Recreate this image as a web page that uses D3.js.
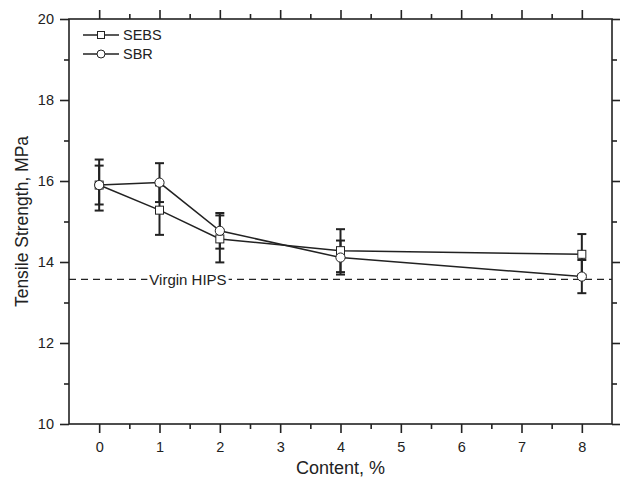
<!DOCTYPE html>
<html>
<head>
<meta charset="utf-8">
<script src="https://cdn.jsdelivr.net/npm/d3@7"></script>
<style>
  html, body { margin: 0; padding: 0; background: #fff; }
  svg { display: block; font-family: "Liberation Sans", Arial, sans-serif; }
</style>
</head>
<body>
<svg id="chart" width="620" height="481"></svg>
<script>
// Tensile strength vs. modifier content
const contents = [0, 1, 2, 4, 8];
const sebsValues = [15.90, 15.28, 14.57, 14.28, 14.19];
const sebsErrors = [0.63, 0.61, 0.58, 0.53, 0.50];
const sbrValues = [15.90, 15.96, 14.77, 14.11, 13.64];
const sbrErrors = [0.48, 0.48, 0.44, 0.42, 0.41];
const virginHips = 13.57;
const xTicks = [0, 1, 2, 3, 4, 5, 6, 7, 8];
const yTicks = [10, 12, 14, 16, 18, 20];

const svg = d3.select("#chart");
const margin = { left: 69, right: 8, top: 19, bottom: 57 };
const W = 620, H = 481;
const x = d3.scaleLinear().domain([-0.5, 8.5]).range([margin.left, W - margin.right]);
const y = d3.scaleLinear().domain([10, 20]).range([H - margin.bottom, margin.top]);
const ink = "#222";

// Axes: major ticks at labels, minor ticks halfway
const xMinor = d3.range(0.5, 8, 1);
const yMinor = [11, 13, 15, 17, 19];

function drawAxis(axisFn, scale, major, minor, transform, labels, pad) {
  const gMaj = svg.append("g").attr("transform", transform)
    .call(axisFn(scale).tickValues(major).tickSize(9).tickPadding(pad)
      .tickFormat(labels ? d3.format("d") : ""));
  const gMin = svg.append("g").attr("transform", transform)
    .call(axisFn(scale).tickValues(minor).tickSize(5).tickFormat(""));
  [gMaj, gMin].forEach(g => {
    g.select(".domain").remove();
    g.selectAll(".tick line").attr("stroke", ink).attr("stroke-width", 1.6);
    g.selectAll(".tick text").attr("fill", ink).style("font-size", "14.5px")
      .style("font-family", "'Liberation Sans', Arial, sans-serif");
  });
}
drawAxis(d3.axisBottom, x, xTicks, xMinor, `translate(0,${y(10)})`, true, 9);
drawAxis(d3.axisTop, x, xTicks, xMinor, `translate(0,${y(20)})`, false, 5);
drawAxis(d3.axisLeft, y, yTicks, yMinor, `translate(${x(-0.5)},0)`, true, 6);
drawAxis(d3.axisRight, y, yTicks, yMinor, `translate(${x(8.5)},0)`, false, 5);

// Frame
svg.append("rect")
  .attr("x", x(-0.5)).attr("y", y(20))
  .attr("width", x(8.5) - x(-0.5)).attr("height", y(10) - y(20))
  .attr("fill", "none").attr("stroke", ink).attr("stroke-width", 1.6);

// Axis titles
svg.append("text")
  .attr("x", (x(-0.5) + x(8.5)) / 2).attr("y", 474)
  .attr("text-anchor", "middle").attr("fill", ink)
  .style("font-size", "18px").text("Content, %");
svg.append("text")
  .attr("transform", `translate(28,${(y(10) + y(20)) / 2}) rotate(-90)`)
  .attr("text-anchor", "middle").attr("fill", ink)
  .style("font-size", "17.5px").text("Tensile Strength, MPa");

// Reference line for the unmodified material
svg.append("line")
  .attr("x1", x(-0.5)).attr("x2", x(8.5))
  .attr("y1", y(virginHips)).attr("y2", y(virginHips))
  .attr("stroke", ink).attr("stroke-width", 1.3).attr("stroke-dasharray", "7,5");
const hipsLabel = svg.append("text")
  .attr("x", 188).attr("y", y(virginHips) + 5.5)
  .attr("text-anchor", "middle").attr("fill", ink)
  .style("font-size", "15px").text("Virgin HIPS");
const bb = hipsLabel.node().getBBox();
svg.append("rect")
  .attr("x", bb.x - 2).attr("y", y(virginHips) - 3)
  .attr("width", bb.width + 4).attr("height", 6).attr("fill", "#fff");
hipsLabel.raise();

// Series
const series = [
  { name: "SEBS", values: sebsValues, errors: sebsErrors, shape: "square" },
  { name: "SBR", values: sbrValues, errors: sbrErrors, shape: "circle" }
];
const line = d3.line().x(d => x(d.c)).y(d => y(d.v));

series.forEach(s => {
  const pts = contents.map((c, i) => ({ c, v: s.values[i], e: s.errors[i] }));
  svg.append("path").datum(pts).attr("d", line)
    .attr("fill", "none").attr("stroke", ink).attr("stroke-width", 1.5);
  const eb = svg.append("g").selectAll("g").data(pts).join("g");
  eb.append("line")
    .attr("x1", d => x(d.c)).attr("x2", d => x(d.c))
    .attr("y1", d => y(d.v + d.e)).attr("y2", d => y(d.v - d.e))
    .attr("stroke", ink).attr("stroke-width", 2);
  [1, -1].forEach(sign => {
    eb.append("line")
      .attr("x1", d => x(d.c) - 4.5).attr("x2", d => x(d.c) + 4.5)
      .attr("y1", d => y(d.v + sign * d.e)).attr("y2", d => y(d.v + sign * d.e))
      .attr("stroke", ink).attr("stroke-width", 2);
  });
});

function marker(g, shape, cx, cy) {
  if (shape === "square") {
    g.append("rect").attr("x", cx - 4).attr("y", cy - 4).attr("width", 8).attr("height", 8)
      .attr("fill", "#fff").attr("stroke", ink).attr("stroke-width", 1);
  } else {
    g.append("circle").attr("cx", cx).attr("cy", cy).attr("r", 4.6)
      .attr("fill", "#fff").attr("stroke", ink).attr("stroke-width", 1);
  }
}
series.forEach(s => {
  const g = svg.append("g");
  contents.forEach((c, i) => marker(g, s.shape, x(c), y(s.values[i])));
});

// Legend
series.forEach((s, i) => {
  const ly = 35 + i * 19;
  const g = svg.append("g");
  g.append("line").attr("x1", 83).attr("x2", 119).attr("y1", ly).attr("y2", ly)
    .attr("stroke", ink).attr("stroke-width", 1.6);
  if (s.shape === "square") {
    g.append("rect").attr("x", 97.5).attr("y", ly - 3.5).attr("width", 7).attr("height", 7)
      .attr("fill", "#fff").attr("stroke", ink).attr("stroke-width", 1);
  } else {
    g.append("circle").attr("cx", 101).attr("cy", ly).attr("r", 4)
      .attr("fill", "#fff").attr("stroke", ink).attr("stroke-width", 1);
  }
  g.append("text").attr("x", 123).attr("y", ly + 5).attr("fill", ink)
    .style("font-size", "14.5px").text(s.name);
});
</script>
</body>
</html>
